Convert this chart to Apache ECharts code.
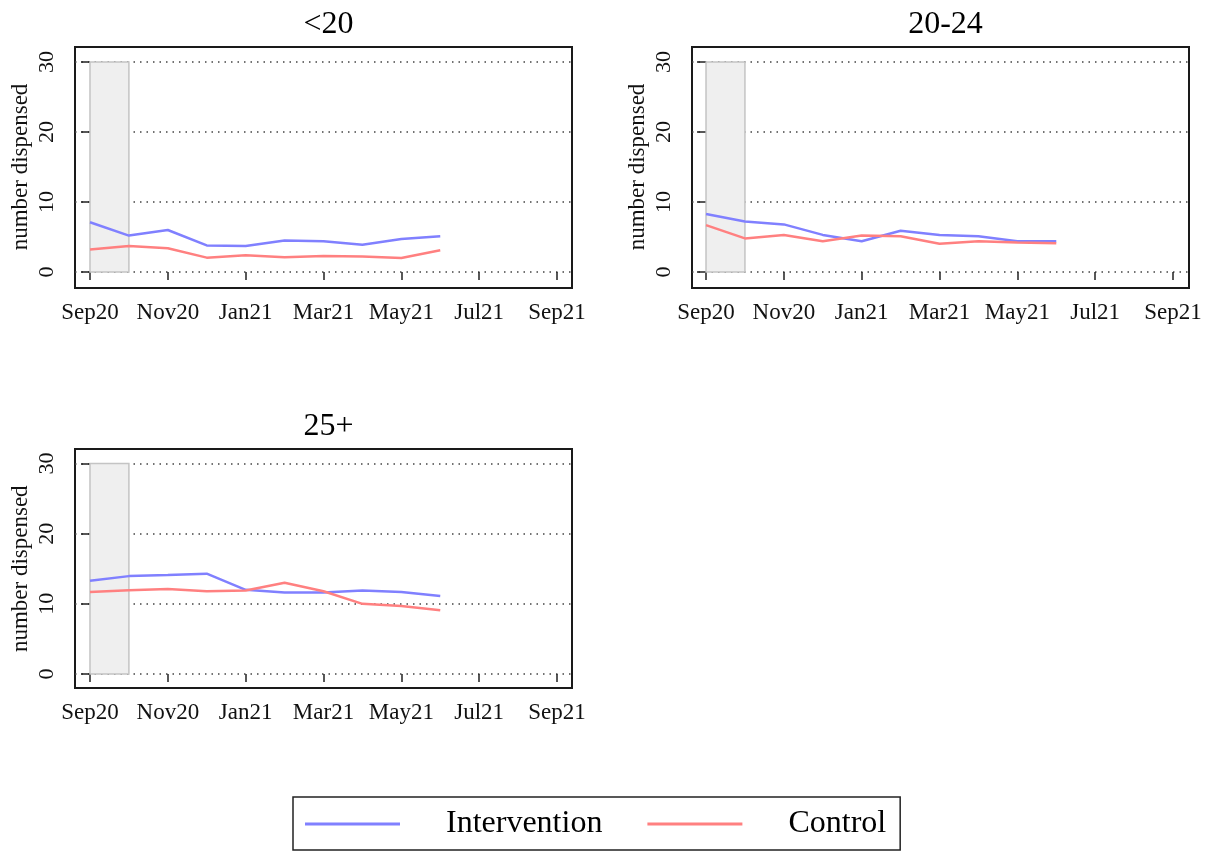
<!DOCTYPE html>
<html>
<head>
<meta charset="utf-8">
<script src="https://cdn.jsdelivr.net/npm/echarts@6/dist/echarts.min.js"></script>
<style>
html,body{margin:0;padding:0;background:#fff;}
#chart{width:1215px;height:855px;}
</style>
</head>
<body>
<div id="chart"></div>
<script>
// ---- data ----
var months = ['Sep20','Oct20','Nov20','Dec20','Jan21','Feb21','Mar21','Apr21','May21','Jun21'];
var tickValues = [0, 2, 4, 6, 8, 10, 12];
var tickLabels = ['Sep20','Nov20','Jan21','Mar21','May21','Jul21','Sep21'];
var yTicks = [0, 10, 20, 30];
var panelTitles = ['<20', '20-24', '25+'];
var shade = [0, 1];          // Sep20 .. Oct20
var shadeY = [0, 30];

var intervention_lt20 = [7.1, 5.2, 6.0, 3.8, 3.7, 4.5, 4.4, 3.9, 4.7, 5.1];
var control_lt20      = [3.2, 3.7, 3.4, 2.05, 2.4, 2.1, 2.3, 2.2, 2.0, 3.1];
var intervention_2024 = [8.3, 7.2, 6.8, 5.3, 4.4, 5.9, 5.3, 5.1, 4.4, 4.4];
var control_2024      = [6.7, 4.8, 5.3, 4.4, 5.2, 5.1, 4.05, 4.4, 4.2, 4.1];
var intervention_25   = [13.3, 13.95, 14.1, 14.3, 12.0, 11.6, 11.6, 11.9, 11.7, 11.1];
var control_25        = [11.7, 11.95, 12.1, 11.8, 11.9, 13.0, 11.8, 10.0, 9.7, 9.1];

var seriesNames = ['Intervention', 'Control'];
var colors = ['#8080ff', '#ff8080'];

// ---- layout ----
var FONT = 'Liberation Serif';
var panels = [
  {frame:{left:75, top:47, width:497, height:241}, data:{left:75, top:62, width:497, height:210}, xmin:-0.385, xmax:12.385, offset:16, tx:323.5, ty:4, vals:[intervention_lt20, control_lt20]},
  {frame:{left:692, top:47, width:497, height:241}, data:{left:692, top:62, width:497, height:210}, xmin:-0.36, xmax:12.41, offset:16, tx:940.5, ty:4, vals:[intervention_2024, control_2024]},
  {frame:{left:75, top:449, width:497, height:239}, data:{left:75, top:463.5, width:497, height:210.5}, xmin:-0.385, xmax:12.385, offset:14.5, tx:323.5, ty:406, vals:[intervention_25, control_25]}
];

var grids = [], xAxes = [], yAxes = [], series = [], titles = [];
panels.forEach(function(p, i){
  var fi = grids.length;
  grids.push(Object.assign({show:true, borderColor:'#1a1a1a', borderWidth:2, backgroundColor:'transparent', containLabel:false}, p.frame));
  xAxes.push({gridIndex:fi, type:'value', show:false, min:0, max:1});
  yAxes.push({gridIndex:fi, type:'value', show:false, min:0, max:1});
  var di = grids.length;
  grids.push(Object.assign({show:false, containLabel:false}, p.data));
  xAxes.push({
    gridIndex:di, type:'value', min:p.xmin, max:p.xmax, position:'bottom', offset:p.offset,
    axisLine:{show:false},
    axisTick:{show:true, customValues:tickValues, length:8, lineStyle:{color:'#222', width:1.5}},
    axisLabel:{show:true, customValues:tickValues, margin:13, fontFamily:FONT, fontSize:23, color:'#111',
      formatter:function(v){ var k = tickValues.indexOf(Math.round(v)); return k >= 0 ? tickLabels[k] : ''; }},
    splitLine:{show:false}
  });
  yAxes.push({
    gridIndex:di, type:'value', min:yTicks[0], max:yTicks[yTicks.length-1], interval:yTicks[1]-yTicks[0],
    name:'number dispensed', nameLocation:'middle', nameGap:43, nameRotate:90,
    nameTextStyle:{fontFamily:FONT, fontSize:23, color:'#111'},
    axisLine:{show:false},
    axisTick:{show:true, inside:false, length:9, lineStyle:{color:'#222', width:1.5}},
    axisLabel:{show:true, rotate:90, margin:17, fontFamily:FONT, fontSize:22, color:'#111'},
    splitLine:{show:true, lineStyle:{type:[1.5,5], color:'#444', width:1.5}}
  });
  p.vals.forEach(function(arr, s){
    var ser = {
      name:seriesNames[s], type:'line', xAxisIndex:di, yAxisIndex:di,
      data:arr.map(function(v, k){ return [k, v]; }),
      symbol:'none', showSymbol:false, silent:true,
      lineStyle:{color:colors[s], width:2.5}, itemStyle:{color:colors[s]}, z:3
    };
    if (s === 0) {
      ser.markArea = {silent:true, z:1,
        itemStyle:{color:'#efefef', borderColor:'#c4c4c4', borderWidth:1.5},
        data:[[{xAxis:shade[0], yAxis:shadeY[0]}, {xAxis:shade[1], yAxis:shadeY[1]}]]};
    }
    series.push(ser);
  });
  titles.push({text:panelTitles[i], left:p.tx, top:p.ty, textAlign:'center',
    textStyle:{fontFamily:FONT, fontSize:32, fontWeight:'normal', color:'#000'}});
});

var option = {
  animation:false,
  backgroundColor:'#fff',
  title:titles,
  grid:grids, xAxis:xAxes, yAxis:yAxes, series:series,
  legend:{
    data:seriesNames.map(function(n){ return {name:n, icon:'rect'}; }),
    left:293, top:797, orient:'horizontal',
    itemWidth:95, itemHeight:3, itemGap:45,
    padding:[11, 14, 10, 12],
    borderColor:'#222', borderWidth:1.5,
    selectedMode:false,
    textStyle:{fontFamily:FONT, fontSize:32, color:'#000', padding:[0,0,0,41]}
  }
};
var chart = echarts.init(document.getElementById('chart'), null, {renderer:'canvas'});
chart.setOption(option);
</script>
</body>
</html>
